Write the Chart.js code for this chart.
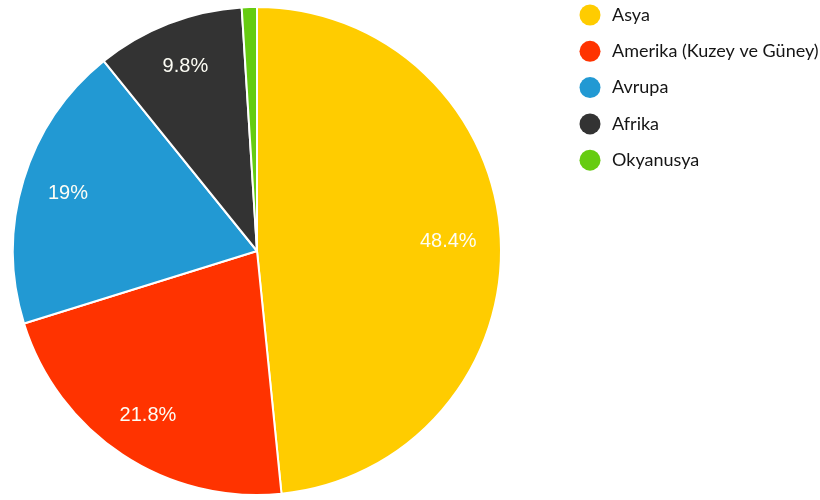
<!DOCTYPE html>
<html>
<head>
<meta charset="utf-8">
<script src="https://cdn.jsdelivr.net/npm/chart.js@4"></script>
<style>
  html, body { margin: 0; padding: 0; background: #fff; }
  #wrap { width: 820px; height: 500px; }
</style>
</head>
<body>
<div id="wrap"><canvas id="chart1" width="820" height="500"></canvas></div>
<script>
const regions = ['Asya', 'Amerika (Kuzey ve Güney)', 'Avrupa', 'Afrika', 'Okyanusya'];
const shares = [48.4, 21.8, 19, 9.8, 1.0];
const colors = ['#FFCC00', '#FF3300', '#2299D3', '#333333', '#66CC11'];

// percent labels inside the slices (skip the tiny ones)
const sliceLabels = {
  id: 'sliceLabels',
  afterDatasetsDraw(chart) {
    const ctx = chart.ctx;
    const meta = chart.getDatasetMeta(0);
    ctx.save();
    ctx.font = '20px "Liberation Sans", Arial, sans-serif';
    ctx.fillStyle = '#fdfdf5';
    ctx.textAlign = 'center';
    ctx.textBaseline = 'middle';
    meta.data.forEach((arc, i) => {
      if (shares[i] < 3) return;
      const text = shares[i] + '%';
      const half = ctx.measureText(text).width / 2;
      const mid = (arc.startAngle + arc.endAngle) / 2;
      const R = arc.outerRadius;
      let x = arc.x + Math.cos(mid) * R * 0.81;
      const y = arc.y + Math.sin(mid) * R * 0.81;
      // keep the text box inside the pie horizontally
      const lim = R * 0.9;
      if (x + half > arc.x + lim) x = arc.x + lim - half;
      if (x - half < arc.x - lim) x = arc.x - lim + half;
      ctx.fillText(text, x, y);
    });
    ctx.restore();
  }
};

// legend column on the right
const sideLegend = {
  id: 'sideLegend',
  afterDraw(chart) {
    const ctx = chart.ctx;
    ctx.save();
    ctx.font = '18px Lato, "Open Sans", sans-serif';
    ctx.textBaseline = 'middle';
    regions.forEach((name, i) => {
      const y = 15 + i * 36.3;
      ctx.beginPath();
      ctx.arc(590, y, 10.5, 0, Math.PI * 2);
      ctx.fillStyle = colors[i];
      ctx.fill();
      ctx.fillStyle = '#151515';
      ctx.fillText(name, 612, y);
    });
    ctx.restore();
  }
};

const chart1 = new Chart(document.getElementById('chart1').getContext('2d'), {
  type: 'pie',
  data: {
    labels: regions,
    datasets: [{
      data: shares,
      backgroundColor: colors,
      borderColor: '#ffffff',
      borderWidth: 2
    }]
  },
  options: {
    responsive: false,
    animation: false,
    layout: { padding: { left: 12, top: 6, right: 318, bottom: 4 } },
    plugins: {
      legend: { display: false },
      tooltip: { enabled: false }
    }
  },
  plugins: [sliceLabels, sideLegend]
});
</script>
</body>
</html>
